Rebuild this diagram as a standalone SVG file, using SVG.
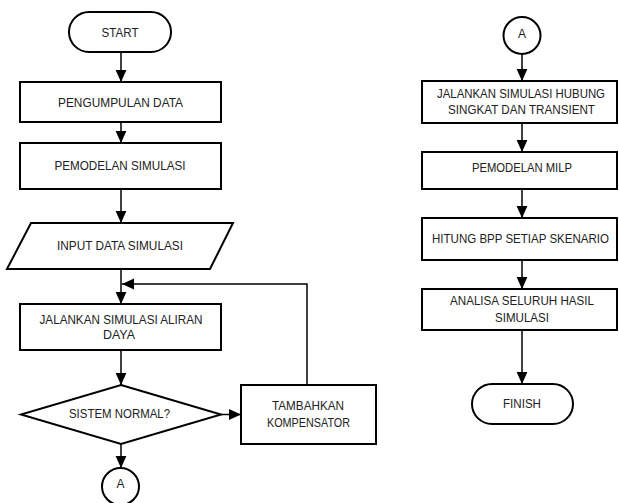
<svg xmlns="http://www.w3.org/2000/svg" width="619" height="503" viewBox="0 0 619 503">
<defs>
<marker id="ah" markerUnits="userSpaceOnUse" markerWidth="12" markerHeight="12" viewBox="0 0 10 10" refX="10" refY="5" orient="auto">
<path d="M0,0.5 L10,5 L0,9.5 Z" fill="#000"/>
</marker>
</defs>
<style>
.s{fill:#fff;stroke:#000;stroke-width:2}
.c{fill:none;stroke:#000;stroke-width:1.5}
text{font-family:"Liberation Sans",Arial,sans-serif;font-size:13px;fill:#222;text-anchor:middle}
</style>
<rect width="619" height="503" fill="#fff"/>
<g id="connectors">
<line class="c" x1="121" y1="52" x2="121" y2="82" marker-end="url(#ah)"/>
<line class="c" x1="121" y1="122" x2="121" y2="143" marker-end="url(#ah)"/>
<line class="c" x1="121" y1="189" x2="121" y2="223" marker-end="url(#ah)"/>
<line class="c" x1="121" y1="269" x2="121" y2="304" marker-end="url(#ah)"/>
<line class="c" x1="121" y1="350" x2="121" y2="385" marker-end="url(#ah)"/>
<line class="c" x1="221" y1="414.5" x2="241" y2="414.5" marker-end="url(#ah)"/>
<polyline class="c" points="307,385 307,284 122,284" marker-end="url(#ah)"/>
<line class="c" x1="121" y1="444" x2="121" y2="468" marker-end="url(#ah)"/>
<line class="c" x1="522" y1="54" x2="522" y2="81" marker-end="url(#ah)"/>
<line class="c" x1="522" y1="123" x2="522" y2="152" marker-end="url(#ah)"/>
<line class="c" x1="522" y1="189" x2="522" y2="218" marker-end="url(#ah)"/>
<line class="c" x1="522" y1="260" x2="522" y2="289" marker-end="url(#ah)"/>
<line class="c" x1="522" y1="330" x2="522" y2="384" marker-end="url(#ah)"/>
</g>
<g id="start">
<rect class="s" x="69" y="12" width="102" height="40" rx="20"/>
<text x="120" y="37" textLength="37" lengthAdjust="spacingAndGlyphs">START</text>
</g>
<g id="pengumpulan">
<rect class="s" x="20" y="82" width="201" height="40"/>
<text x="120.5" y="107" textLength="125" lengthAdjust="spacingAndGlyphs">PENGUMPULAN DATA</text>
</g>
<g id="pemodelan">
<rect class="s" x="20" y="143" width="201" height="46"/>
<text x="120" y="170" textLength="131" lengthAdjust="spacingAndGlyphs">PEMODELAN SIMULASI</text>
</g>
<g id="input">
<polygon class="s" points="31,223 233,223 210,269 7,269"/>
<text x="120" y="250" textLength="126" lengthAdjust="spacingAndGlyphs">INPUT DATA SIMULASI</text>
</g>
<g id="aliran">
<rect class="s" x="20" y="304" width="201" height="46"/>
<text x="121" y="324" textLength="163" lengthAdjust="spacingAndGlyphs">JALANKAN SIMULASI ALIRAN</text>
<text x="119" y="339" textLength="32" lengthAdjust="spacingAndGlyphs">DAYA</text>
</g>
<g id="normal">
<polygon class="s" points="121,385 221,414.5 121,444 21,414.5"/>
<text x="119.5" y="418" textLength="101" lengthAdjust="spacingAndGlyphs">SISTEM NORMAL?</text>
</g>
<g id="tambahkan">
<rect class="s" x="241" y="385" width="135" height="59"/>
<text x="308" y="410" textLength="72" lengthAdjust="spacingAndGlyphs">TAMBAHKAN</text>
<text x="308.5" y="427" textLength="83" lengthAdjust="spacingAndGlyphs">KOMPENSATOR</text>
</g>
<g id="a1">
<circle class="s" cx="120.5" cy="486.5" r="18.5"/>
<text x="120.5" y="488" textLength="8" lengthAdjust="spacingAndGlyphs">A</text>
</g>
<g id="a2">
<circle class="s" cx="522" cy="35.5" r="18.5"/>
<text x="522" y="38" textLength="8" lengthAdjust="spacingAndGlyphs">A</text>
</g>
<g id="hubung">
<rect class="s" x="422" y="81" width="195" height="42"/>
<text x="521" y="98" textLength="168" lengthAdjust="spacingAndGlyphs">JALANKAN SIMULASI HUBUNG</text>
<text x="521.5" y="114" textLength="147" lengthAdjust="spacingAndGlyphs">SINGKAT DAN TRANSIENT</text>
</g>
<g id="milp">
<rect class="s" x="422" y="152" width="195" height="37"/>
<text x="522" y="172" textLength="100" lengthAdjust="spacingAndGlyphs">PEMODELAN MILP</text>
</g>
<g id="hitung">
<rect class="s" x="422" y="218" width="195" height="42"/>
<text x="520.5" y="243" textLength="177" lengthAdjust="spacingAndGlyphs">HITUNG BPP SETIAP SKENARIO</text>
</g>
<g id="analisa">
<rect class="s" x="422" y="289" width="195" height="41"/>
<text x="522" y="305" textLength="144" lengthAdjust="spacingAndGlyphs">ANALISA SELURUH HASIL</text>
<text x="522" y="322" textLength="54" lengthAdjust="spacingAndGlyphs">SIMULASI</text>
</g>
<g id="finish">
<rect class="s" x="472" y="384" width="101" height="40" rx="20"/>
<text x="522" y="408" textLength="38" lengthAdjust="spacingAndGlyphs">FINISH</text>
</g>
</svg>
